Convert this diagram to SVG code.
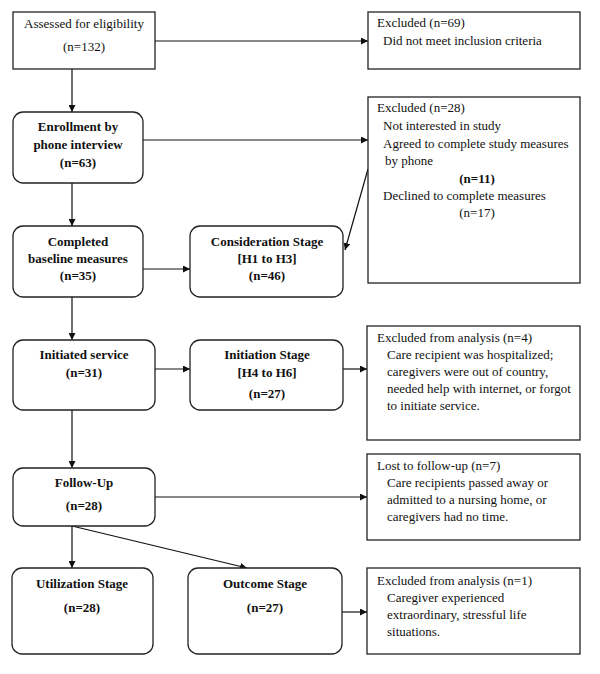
<svg xmlns="http://www.w3.org/2000/svg" width="600" height="674" viewBox="0 0 600 674">
<style>
.b{fill:#fff;stroke:#222;stroke-width:1.3}
.t{font-family:"Liberation Serif","Times New Roman",serif;font-size:13px;fill:#111}
.c{text-anchor:middle}
.bd{font-weight:bold}
.l{fill:none;stroke:#111;stroke-width:1.2}
</style>
<defs>
<marker id="a" viewBox="0 0 10 10" refX="10" refY="5" markerWidth="7" markerHeight="7" markerUnits="userSpaceOnUse" orient="auto">
<path d="M0,0 L10,5 L0,10 z" fill="#111"/>
</marker>
</defs>
<rect width="600" height="674" fill="#fff"/>
<g id="connectors">
<line class="l" x1="155" y1="41" x2="368" y2="41" marker-end="url(#a)"/>
<line class="l" x1="72" y1="69" x2="72" y2="112" marker-end="url(#a)"/>
<line class="l" x1="143" y1="140" x2="368" y2="140" marker-end="url(#a)"/>
<line class="l" x1="72" y1="183" x2="72" y2="226" marker-end="url(#a)"/>
<line class="l" x1="368" y1="169" x2="345" y2="250" marker-end="url(#a)"/>
<line class="l" x1="143" y1="269" x2="190" y2="269" marker-end="url(#a)"/>
<line class="l" x1="72" y1="297" x2="72" y2="340" marker-end="url(#a)"/>
<line class="l" x1="155" y1="369" x2="190" y2="369" marker-end="url(#a)"/>
<line class="l" x1="343" y1="369" x2="367" y2="369" marker-end="url(#a)"/>
<line class="l" x1="72" y1="410" x2="72" y2="468" marker-end="url(#a)"/>
<line class="l" x1="155" y1="497" x2="367" y2="497" marker-end="url(#a)"/>
<line class="l" x1="72" y1="526" x2="72" y2="568" marker-end="url(#a)"/>
<line class="l" x1="72" y1="526" x2="247" y2="568" marker-end="url(#a)"/>
<line class="l" x1="342" y1="612" x2="367" y2="612" marker-end="url(#a)"/>
</g>
<g id="assessed">
<rect class="b" x="13" y="12" width="142" height="57"/>
<text class="t c" x="84" y="28">Assessed for eligibility</text>
<text class="t c" x="84" y="51">(n=132)</text>
</g>
<g id="excluded69">
<rect class="b" x="368" y="12" width="212" height="57"/>
<text class="t" x="377" y="27">Excluded (n=69)</text>
<text class="t" x="383" y="45">Did not meet inclusion criteria</text>
</g>
<g id="enrollment">
<rect class="b" x="13" y="112" width="130" height="71" rx="10"/>
<text class="t c bd" x="78" y="131">Enrollment by</text>
<text class="t c bd" x="78" y="149">phone interview</text>
<text class="t c bd" x="78" y="167">(n=63)</text>
</g>
<g id="excluded28">
<rect class="b" x="368" y="97" width="212" height="186"/>
<text class="t" x="377" y="112">Excluded (n=28)</text>
<text class="t" x="383" y="130">Not interested in study</text>
<text class="t" x="383" y="148">Agreed to complete study measures</text>
<text class="t" x="385" y="165">by phone</text>
<text class="t c bd" x="477" y="183">(n=11)</text>
<text class="t" x="383" y="200">Declined to complete measures</text>
<text class="t c" x="477" y="217">(n=17)</text>
</g>
<g id="completed">
<rect class="b" x="13" y="226" width="130" height="71" rx="10"/>
<text class="t c bd" x="78" y="246">Completed</text>
<text class="t c bd" x="78" y="263">baseline measures</text>
<text class="t c bd" x="78" y="280">(n=35)</text>
</g>
<g id="consideration">
<rect class="b" x="190" y="226" width="153" height="71" rx="10"/>
<text class="t c bd" x="267" y="246">Consideration Stage</text>
<text class="t c bd" x="267" y="263">[H1 to H3]</text>
<text class="t c bd" x="267" y="280">(n=46)</text>
</g>
<g id="initiated">
<rect class="b" x="13" y="340" width="142" height="70" rx="10"/>
<text class="t c bd" x="84" y="359">Initiated service</text>
<text class="t c bd" x="84" y="377">(n=31)</text>
</g>
<g id="initiation">
<rect class="b" x="190" y="340" width="153" height="70" rx="10"/>
<text class="t c bd" x="267" y="359">Initiation Stage</text>
<text class="t c bd" x="267" y="377">[H4 to H6]</text>
<text class="t c bd" x="267" y="398">(n=27)</text>
</g>
<g id="excluded4">
<rect class="b" x="367" y="326" width="213" height="114"/>
<text class="t" x="377" y="342">Excluded from analysis (n=4)</text>
<text class="t" x="387" y="359">Care recipient was hospitalized;</text>
<text class="t" x="387" y="376">caregivers were out of country,</text>
<text class="t" x="387" y="393">needed help with internet, or forgot</text>
<text class="t" x="387" y="410">to initiate service.</text>
</g>
<g id="followup">
<rect class="b" x="13" y="468" width="142" height="58" rx="10"/>
<text class="t c bd" x="84" y="487">Follow-Up</text>
<text class="t c bd" x="84" y="510">(n=28)</text>
</g>
<g id="lost">
<rect class="b" x="367" y="454" width="213" height="86"/>
<text class="t" x="377" y="470">Lost to follow-up (n=7)</text>
<text class="t" x="387" y="487">Care recipients passed away or</text>
<text class="t" x="387" y="504">admitted to a nursing home, or</text>
<text class="t" x="387" y="521">caregivers had no time.</text>
</g>
<g id="utilization">
<rect class="b" x="12" y="568" width="141" height="86" rx="10"/>
<text class="t c bd" x="82" y="588">Utilization Stage</text>
<text class="t c bd" x="82" y="612">(n=28)</text>
</g>
<g id="outcome">
<rect class="b" x="188" y="568" width="154" height="86" rx="10"/>
<text class="t c bd" x="265" y="588">Outcome Stage</text>
<text class="t c bd" x="265" y="612">(n=27)</text>
</g>
<g id="excluded1">
<rect class="b" x="367" y="568" width="213" height="86"/>
<text class="t" x="377" y="585">Excluded from analysis (n=1)</text>
<text class="t" x="387" y="602">Caregiver experienced</text>
<text class="t" x="387" y="619">extraordinary, stressful life</text>
<text class="t" x="387" y="636">situations.</text>
</g>
</svg>
